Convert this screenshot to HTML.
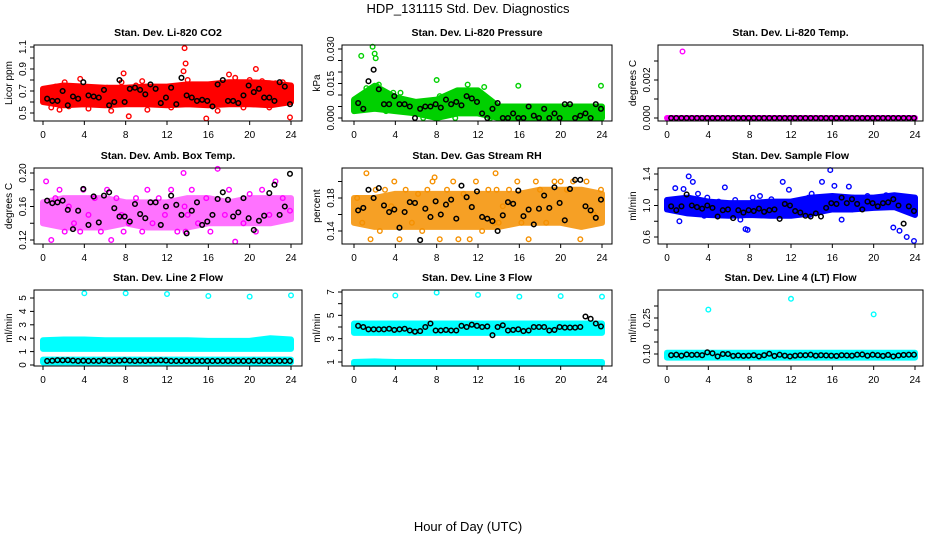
<!DOCTYPE html>
<html><head><meta charset="utf-8"><style>
html,body{margin:0;padding:0;background:#fff;}
svg{display:block;font-family:"Liberation Sans",Arial,sans-serif;}
</style></head><body>
<svg id="chart" width="936" height="540" viewBox="0 0 936 540">
<text x="468" y="13" text-anchor="middle" font-size="13">HDP_131115  Std. Dev. Diagnostics</text>
<text x="468" y="531" text-anchor="middle" font-size="13">Hour of Day (UTC)</text>
</svg>
<script>
// ---------- data ----------
const hoursA = [0.3,0.8,1.2,1.6,2.1,2.5,3.0,3.6,3.9,4.4,5.0,5.6,6.2,6.6,7.1,7.6,7.8,8.3,9.0,9.6,10.1,10.6,11.2,11.8,12.4,13.0,13.6,13.7,13.8,14.0,14.4,15.0,15.8,16.2,16.9,17.6,18.0,18.6,19.4,20.0,20.6,21.2,21.9,22.5,23.2,23.9];
const bandHours = [0,2,4,6,8,10,12,14,16,18,20,22,24];
const blackHours = Array.from({length:48},(_,i)=>0.5*(i+1)-0.1);

const co2Lo = [0.6,0.57,0.58,0.57,0.58,0.58,0.57,0.58,0.57,0.58,0.58,0.57,0.6];
const co2Hi = [0.72,0.75,0.74,0.73,0.73,0.74,0.74,0.76,0.76,0.78,0.78,0.77,0.75];
const co2Y = [0.68,0.55,0.74,0.53,0.78,0.56,0.72,0.81,0.62,0.54,0.7,0.6,0.73,0.52,0.66,0.78,0.86,0.47,0.75,0.79,0.53,0.72,0.6,0.7,0.55,0.73,0.88,1.09,0.95,0.8,0.6,0.74,0.45,0.68,0.52,0.75,0.85,0.82,0.55,0.8,0.9,0.79,0.55,0.77,0.78,0.46];
const co2Blk = [0.63,0.61,0.61,0.70,0.57,0.65,0.63,0.78,0.66,0.65,0.64,0.71,0.57,0.60,0.80,0.60,0.72,0.73,0.71,0.67,0.76,0.72,0.59,0.64,0.73,0.58,0.82,0.66,0.64,0.61,0.62,0.61,0.56,0.76,0.80,0.61,0.61,0.59,0.66,0.75,0.69,0.72,0.64,0.64,0.61,0.78,0.74,0.58];

const presLo = [0.003,0.004,0.003,0.002,0.0,0.002,0.002,0.0,0.0,0.0,0.0,0.0,0.0];
const presHi = [0.008,0.014,0.009,0.007,0.008,0.012,0.012,0.005,0.005,0.005,0.005,0.005,0.005];
const presX = [0.7,1.8,2.0,2.1,2.2,2.4,1.2,3.8,4.5,8.0,8.3,11.0,12.6,15.9,23.9,6.7,9.8,3.1,13.2];
const presY = [0.027,0.031,0.028,0.026,0.014,0.0145,0.013,0.011,0.011,0.0165,0.0095,0.0145,0.0135,0.014,0.014,0.0,0.0,0.003,0.0];
const presBlk = [0.0065,0.004,0.016,0.021,0.0125,0.006,0.006,0.0095,0.006,0.006,0.005,0.0,0.004,0.005,0.005,0.006,0.0045,0.008,0.006,0.007,0.0055,0.0095,0.0085,0.007,0.002,0.0,0.004,0.0065,0.0,0.0,0.002,0.0,0.0,0.005,0.001,0.0,0.004,0.0,0.002,0.0,0.006,0.006,0.0,0.001,0.002,0.0,0.006,0.004];

const tempLo = [0,0,0,0,0,0,0,0,0,0,0,0,0];
const tempHi = [0,0,0,0,0,0,0,0,0,0,0,0,0];
const tempX = [0.1,1.5];
const tempY = [0.0,0.0035];
const tempBlk = Array(48).fill(0);

const ambLo = [0.14,0.135,0.135,0.135,0.14,0.135,0.135,0.135,0.14,0.14,0.14,0.14,0.145];
const ambHi = [0.165,0.17,0.17,0.17,0.165,0.165,0.165,0.17,0.17,0.165,0.17,0.17,0.17];
const ambY = [0.19,0.12,0.17,0.18,0.13,0.16,0.14,0.13,0.18,0.15,0.17,0.13,0.18,0.12,0.17,0.15,0.13,0.14,0.17,0.13,0.18,0.14,0.17,0.15,0.18,0.13,0.2,0.16,0.13,0.15,0.18,0.14,0.17,0.13,0.205,0.15,0.18,0.118,0.14,0.175,0.13,0.18,0.15,0.19,0.17,0.155];
const ambBlk = [0.167,0.164,0.165,0.167,0.156,0.133,0.155,0.181,0.138,0.172,0.141,0.173,0.177,0.158,0.148,0.148,0.142,0.163,0.151,0.146,0.165,0.165,0.138,0.160,0.173,0.162,0.150,0.128,0.155,0.165,0.138,0.142,0.150,0.169,0.177,0.168,0.148,0.153,0.170,0.146,0.132,0.143,0.149,0.176,0.186,0.150,0.160,0.199];

const rhLo = [0.15,0.145,0.145,0.145,0.145,0.145,0.145,0.145,0.15,0.15,0.15,0.145,0.15];
const rhHi = [0.18,0.18,0.185,0.185,0.185,0.185,0.185,0.185,0.185,0.19,0.19,0.19,0.185];
const rhY = [0.18,0.15,0.21,0.13,0.19,0.14,0.19,0.17,0.2,0.13,0.19,0.15,0.185,0.14,0.19,0.2,0.205,0.13,0.19,0.2,0.13,0.185,0.13,0.2,0.14,0.19,0.15,0.21,0.19,0.15,0.17,0.19,0.2,0.15,0.13,0.2,0.19,0.15,0.2,0.2,0.19,0.2,0.13,0.2,0.16,0.19];
const rhBlk = [0.165,0.168,0.190,0.180,0.192,0.171,0.163,0.166,0.144,0.163,0.175,0.174,0.129,0.167,0.157,0.176,0.160,0.172,0.178,0.155,0.195,0.181,0.169,0.188,0.157,0.155,0.152,0.140,0.159,0.175,0.173,0.189,0.158,0.166,0.148,0.167,0.183,0.168,0.193,0.174,0.153,0.191,0.202,0.202,0.170,0.165,0.156,0.178];

const flowLo = [0.95,0.9,0.88,0.87,0.88,0.87,0.87,0.9,0.95,0.95,0.97,0.98,0.88];
const flowHi = [1.07,1.1,1.05,1.03,1.03,1.05,1.05,1.1,1.12,1.1,1.1,1.13,1.1];
const flowY = [0.98,1.22,0.8,1.21,1.37,1.3,1.15,0.87,1.1,0.88,1.05,1.23,0.9,1.07,0.82,0.7,0.69,1.1,1.12,1.0,1.08,0.9,1.3,1.2,1.05,0.9,1.0,1.1,0.88,1.15,0.95,1.3,1.45,1.25,0.82,1.24,1.1,1.0,1.12,1.05,1.0,1.13,0.72,0.68,0.6,0.55];
const flowBlk = [0.99,0.94,0.99,1.14,1.0,0.98,0.96,1.0,0.97,0.86,0.94,0.95,0.84,0.94,0.91,0.94,0.93,0.96,0.92,0.94,0.95,0.83,1.02,1.0,0.93,0.91,0.87,0.86,0.9,0.86,0.97,1.03,1.02,1.1,1.03,1.08,1.02,0.95,1.05,1.03,0.99,1.03,1.04,1.08,1.0,0.77,0.99,0.93];

const l2Lo = [1.2,1.2,1.2,1.2,1.2,1.2,1.2,1.2,1.2,1.2,1.2,1.2,1.2];
const l2Hi = [1.85,1.9,1.9,1.85,1.85,1.85,1.85,1.85,1.8,1.8,1.8,2.0,1.9];
const l2Lo2 = [0.2,0.2,0.2,0.2,0.2,0.2,0.2,0.2,0.2,0.2,0.2,0.15,0.2];
const l2Hi2 = [0.4,0.4,0.4,0.4,0.4,0.4,0.4,0.4,0.4,0.4,0.4,0.4,0.4];
const l2X = [4,8,12,16,20,24];
const l2Y = [5.35,5.35,5.3,5.15,5.1,5.2];
const l2Blk = [0.3,0.32,0.36,0.35,0.36,0.33,0.3,0.32,0.3,0.31,0.3,0.35,0.3,0.3,0.32,0.35,0.32,0.3,0.32,0.3,0.33,0.33,0.35,0.33,0.3,0.3,0.3,0.3,0.3,0.3,0.3,0.3,0.3,0.3,0.3,0.3,0.3,0.3,0.3,0.3,0.32,0.3,0.3,0.3,0.3,0.3,0.3,0.3];

const l3Lo = [3.5,3.5,3.5,3.5,3.5,3.5,3.5,3.5,3.5,3.5,3.5,3.5,3.5];
const l3Hi = [4.3,4.3,4.3,4.3,4.3,4.3,4.3,4.3,4.3,4.3,4.3,4.3,4.3];
const l3Lo2 = [0.85,0.85,0.85,0.85,0.85,0.85,0.85,0.85,0.85,0.85,0.85,0.85,0.85];
const l3Hi2 = [1.0,1.05,1.0,1.0,1.0,1.0,1.0,1.0,1.0,1.0,1.0,1.0,1.0];
const l3X = [4,8,12,16,20,24];
const l3Y = [6.7,6.95,6.75,6.6,6.65,6.6];
const l3Blk = [4.1,4.0,3.8,3.8,3.8,3.8,3.85,3.75,3.8,3.85,3.7,3.6,3.65,4.0,4.3,3.7,3.7,3.75,3.7,3.7,4.1,4.0,4.2,4.1,4.0,4.05,3.3,4.0,4.15,3.7,3.75,3.8,3.65,3.7,4.0,4.0,4.0,3.7,3.75,4.0,3.95,3.95,3.95,4.0,4.9,4.7,4.3,4.05];

const l4Lo = [0.085,0.085,0.085,0.085,0.085,0.085,0.085,0.085,0.085,0.085,0.085,0.085,0.085];
const l4Hi = [0.105,0.105,0.105,0.105,0.105,0.105,0.105,0.105,0.105,0.105,0.105,0.105,0.105];
const l4X = [4,12,20];
const l4Y = [0.285,0.33,0.265];
const l4Blk = [0.095,0.097,0.093,0.098,0.096,0.097,0.095,0.107,0.103,0.09,0.1,0.1,0.092,0.094,0.092,0.093,0.095,0.09,0.095,0.101,0.092,0.097,0.093,0.09,0.093,0.095,0.095,0.097,0.093,0.095,0.094,0.093,0.092,0.095,0.094,0.093,0.097,0.098,0.093,0.097,0.095,0.092,0.096,0.09,0.094,0.096,0.097,0.097];

// ---------- layout ----------
const NS = "http://www.w3.org/2000/svg";
const svg = document.getElementById('chart');
function mk(tag, attrs, parent){const e=document.createElementNS(NS,tag);for(const k in attrs)e.setAttribute(k,attrs[k]);(parent||svg).appendChild(e);return e;}

const cols = [{l:34,r:302,x0:43,x1:291},{l:342,r:612,x0:354,x1:602},{l:658,r:923,x0:667,x1:915}];
const rows = [{t:45,b:121},{t:168,b:244},{t:290,b:366}];

const panels = [
 {name:'co2',title:'Stan. Dev. Li-820 CO2',ylab:'Licor ppm',c:0,r:0,color:'#ff0000',op:1,v0:0.5,p0:113,v1:1.1,p1:47,ticks:[0.5,0.6,0.7,0.8,0.9,1.0,1.1],labels:['0.5','','0.7','','0.9','','1.1'],lo:co2Lo,hi:co2Hi,px:hoursA,py:co2Y,blk:co2Blk},
 {name:'pressure',title:'Stan. Dev. Li-820 Pressure',ylab:'kPa',c:1,r:0,color:'#00d000',op:1,v0:0,p0:118,v1:0.030,p1:49,ticks:[0,0.005,0.01,0.015,0.02,0.025,0.03],labels:['0.000','','','0.015','','','0.030'],lo:presLo,hi:presHi,px:presX,py:presY,blk:presBlk},
 {name:'li820-temp',title:'Stan. Dev. Li-820 Temp.',ylab:'degrees C',c:2,r:0,color:'#ff00ff',op:1,v0:0,p0:118,v1:0.002,p1:80,ticks:[0,0.001,0.002,0.003],labels:['0.000','','0.002',''],lo:tempLo,hi:tempHi,px:tempX,py:tempY,blk:tempBlk},
 {name:'amb-box-temp',title:'Stan. Dev. Amb. Box Temp.',ylab:'degrees C',c:0,r:1,color:'#ff00ff',op:0.55,v0:0.12,p0:240,v1:0.20,p1:173,ticks:[0.12,0.14,0.16,0.18,0.20],labels:['0.12','','0.16','','0.20'],lo:ambLo,hi:ambHi,px:hoursA,py:ambY,blk:ambBlk},
 {name:'gas-stream-rh',title:'Stan. Dev. Gas Stream RH',ylab:'percent',c:1,r:1,color:'#f59000',op:0.85,v0:0.14,p0:231,v1:0.18,p1:198,ticks:[0.14,0.16,0.18,0.20],labels:['0.14','','0.18',''],lo:rhLo,hi:rhHi,px:hoursA,py:rhY,blk:rhBlk},
 {name:'sample-flow',title:'Stan. Dev. Sample Flow',ylab:'ml/min',c:2,r:1,color:'#0000ff',op:1,v0:0.6,p0:237,v1:1.4,p1:174,ticks:[0.6,0.8,1.0,1.2,1.4],labels:['0.6','','1.0','','1.4'],lo:flowLo,hi:flowHi,px:hoursA,py:flowY,blk:flowBlk},
 {name:'line2-flow',title:'Stan. Dev. Line 2 Flow',ylab:'ml/min',c:0,r:2,color:'#00ffff',op:1,v0:0,p0:365,v1:5,p1:298,ticks:[0,1,2,3,4,5],labels:['0','1','2','3','4','5'],lo:l2Lo,hi:l2Hi,lo2:l2Lo2,hi2:l2Hi2,px:l2X,py:l2Y,blk:l2Blk},
 {name:'line3-flow',title:'Stan. Dev. Line 3 Flow',ylab:'ml/min',c:1,r:2,color:'#00ffff',op:1,v0:1,p0:362,v1:7,p1:292,ticks:[1,2,3,4,5,6,7],labels:['1','','3','','5','','7'],lo:l3Lo,hi:l3Hi,lo2:l3Lo2,hi2:l3Hi2,px:l3X,py:l3Y,blk:l3Blk},
 {name:'line4-flow',title:'Stan. Dev. Line 4 (LT) Flow',ylab:'ml/min',c:2,r:2,color:'#00ffff',op:1,v0:0.10,p0:354,v1:0.25,p1:318,ticks:[0.10,0.15,0.20,0.25,0.30],labels:['0.10','','','0.25',''],lo:l4Lo,hi:l4Hi,px:l4X,py:l4Y,blk:l4Blk}
];
const xTicks = [0,4,8,12,16,20,24];

panels.forEach(p=>{
  const C=cols[p.c], R=rows[p.r];
  const X=h=>C.x0+(C.x1-C.x0)*h/24;
  const Y=v=>p.p0+(p.p1-p.p0)*(v-p.v0)/(p.v1-p.v0);
  const g=mk('g',{});
  
  
  const clip=mk('clipPath',{id:'clip-'+p.name},g);
  mk('rect',{x:C.l,y:R.t-4,width:C.r-C.l+4,height:R.b-R.t+8},clip);
  const plot=mk('g',{'clip-path':'url(#clip-'+p.name+')'},g);
  
  
  function band(lo,hi,nm){
    let pts=bandHours.map((h,i)=>X(h)+','+Y(hi[i]));
    pts=pts.concat(bandHours.map((h,i)=>X(h)+','+Y(lo[i])).reverse());
    const e=mk('polygon',{points:pts.join(' '),fill:p.color,stroke:p.color,'stroke-width':6,'stroke-linejoin':'round',opacity:p.op},plot);
    
    
  }
  band(p.lo,p.hi,p.name+'-band');
  if(p.lo2) band(p.lo2,p.hi2,p.name+'-low-band');
  p.px.forEach((h,i)=>{
    const e=mk('circle',{cx:X(h),cy:Y(p.py[i]),r:2.3,fill:'none',stroke:p.color,'stroke-width':1.4},plot);
    
    
  });
  blackHours.forEach((h,i)=>{
    const e=mk('circle',{cx:X(h),cy:Y(p.blk[i]),r:2.3,fill:'none',stroke:'#000','stroke-width':1.5},plot);
    
    
  });
  const box=mk('rect',{x:C.l,y:R.t,width:C.r-C.l,height:R.b-R.t,fill:'none',stroke:'#000','stroke-width':1},g);
  
  
  const t=mk('text',{x:(C.l+C.r)/2,y:R.t-9,'text-anchor':'middle','font-size':10.5,'font-weight':'bold'},g);
  t.textContent=p.title;
  
  
  mk('line',{x1:X(0),x2:X(24),y1:R.b,y2:R.b,stroke:'#000'},g);
  xTicks.forEach(v=>{
    mk('line',{x1:X(v),x2:X(v),y1:R.b,y2:R.b+4,stroke:'#000'},g);
    const e=mk('text',{x:X(v),y:R.b+17,'text-anchor':'middle','font-size':10},g);
    e.textContent=v;
    
    
  });
  const yt=p.ticks;
  mk('line',{x1:C.l,x2:C.l,y1:Y(yt[0]),y2:Y(yt[yt.length-1]),stroke:'#000'},g);
  yt.forEach((v,i)=>{
    mk('line',{x1:C.l-4,x2:C.l,y1:Y(v),y2:Y(v),stroke:'#000'},g);
    if(p.labels[i]){
      const e=mk('text',{x:C.l-8,y:Y(v),'text-anchor':'middle','font-size':10,transform:`rotate(-90 ${C.l-8} ${Y(v)})`},g);
      e.textContent=p.labels[i];
      
      
    }
  });
  const yl=mk('text',{x:C.l-22,y:(R.t+R.b)/2,'text-anchor':'middle','font-size':10,transform:`rotate(-90 ${C.l-22} ${(R.t+R.b)/2})`},g);
  yl.textContent=p.ylab;
  
  
});
</script>
</body></html>
